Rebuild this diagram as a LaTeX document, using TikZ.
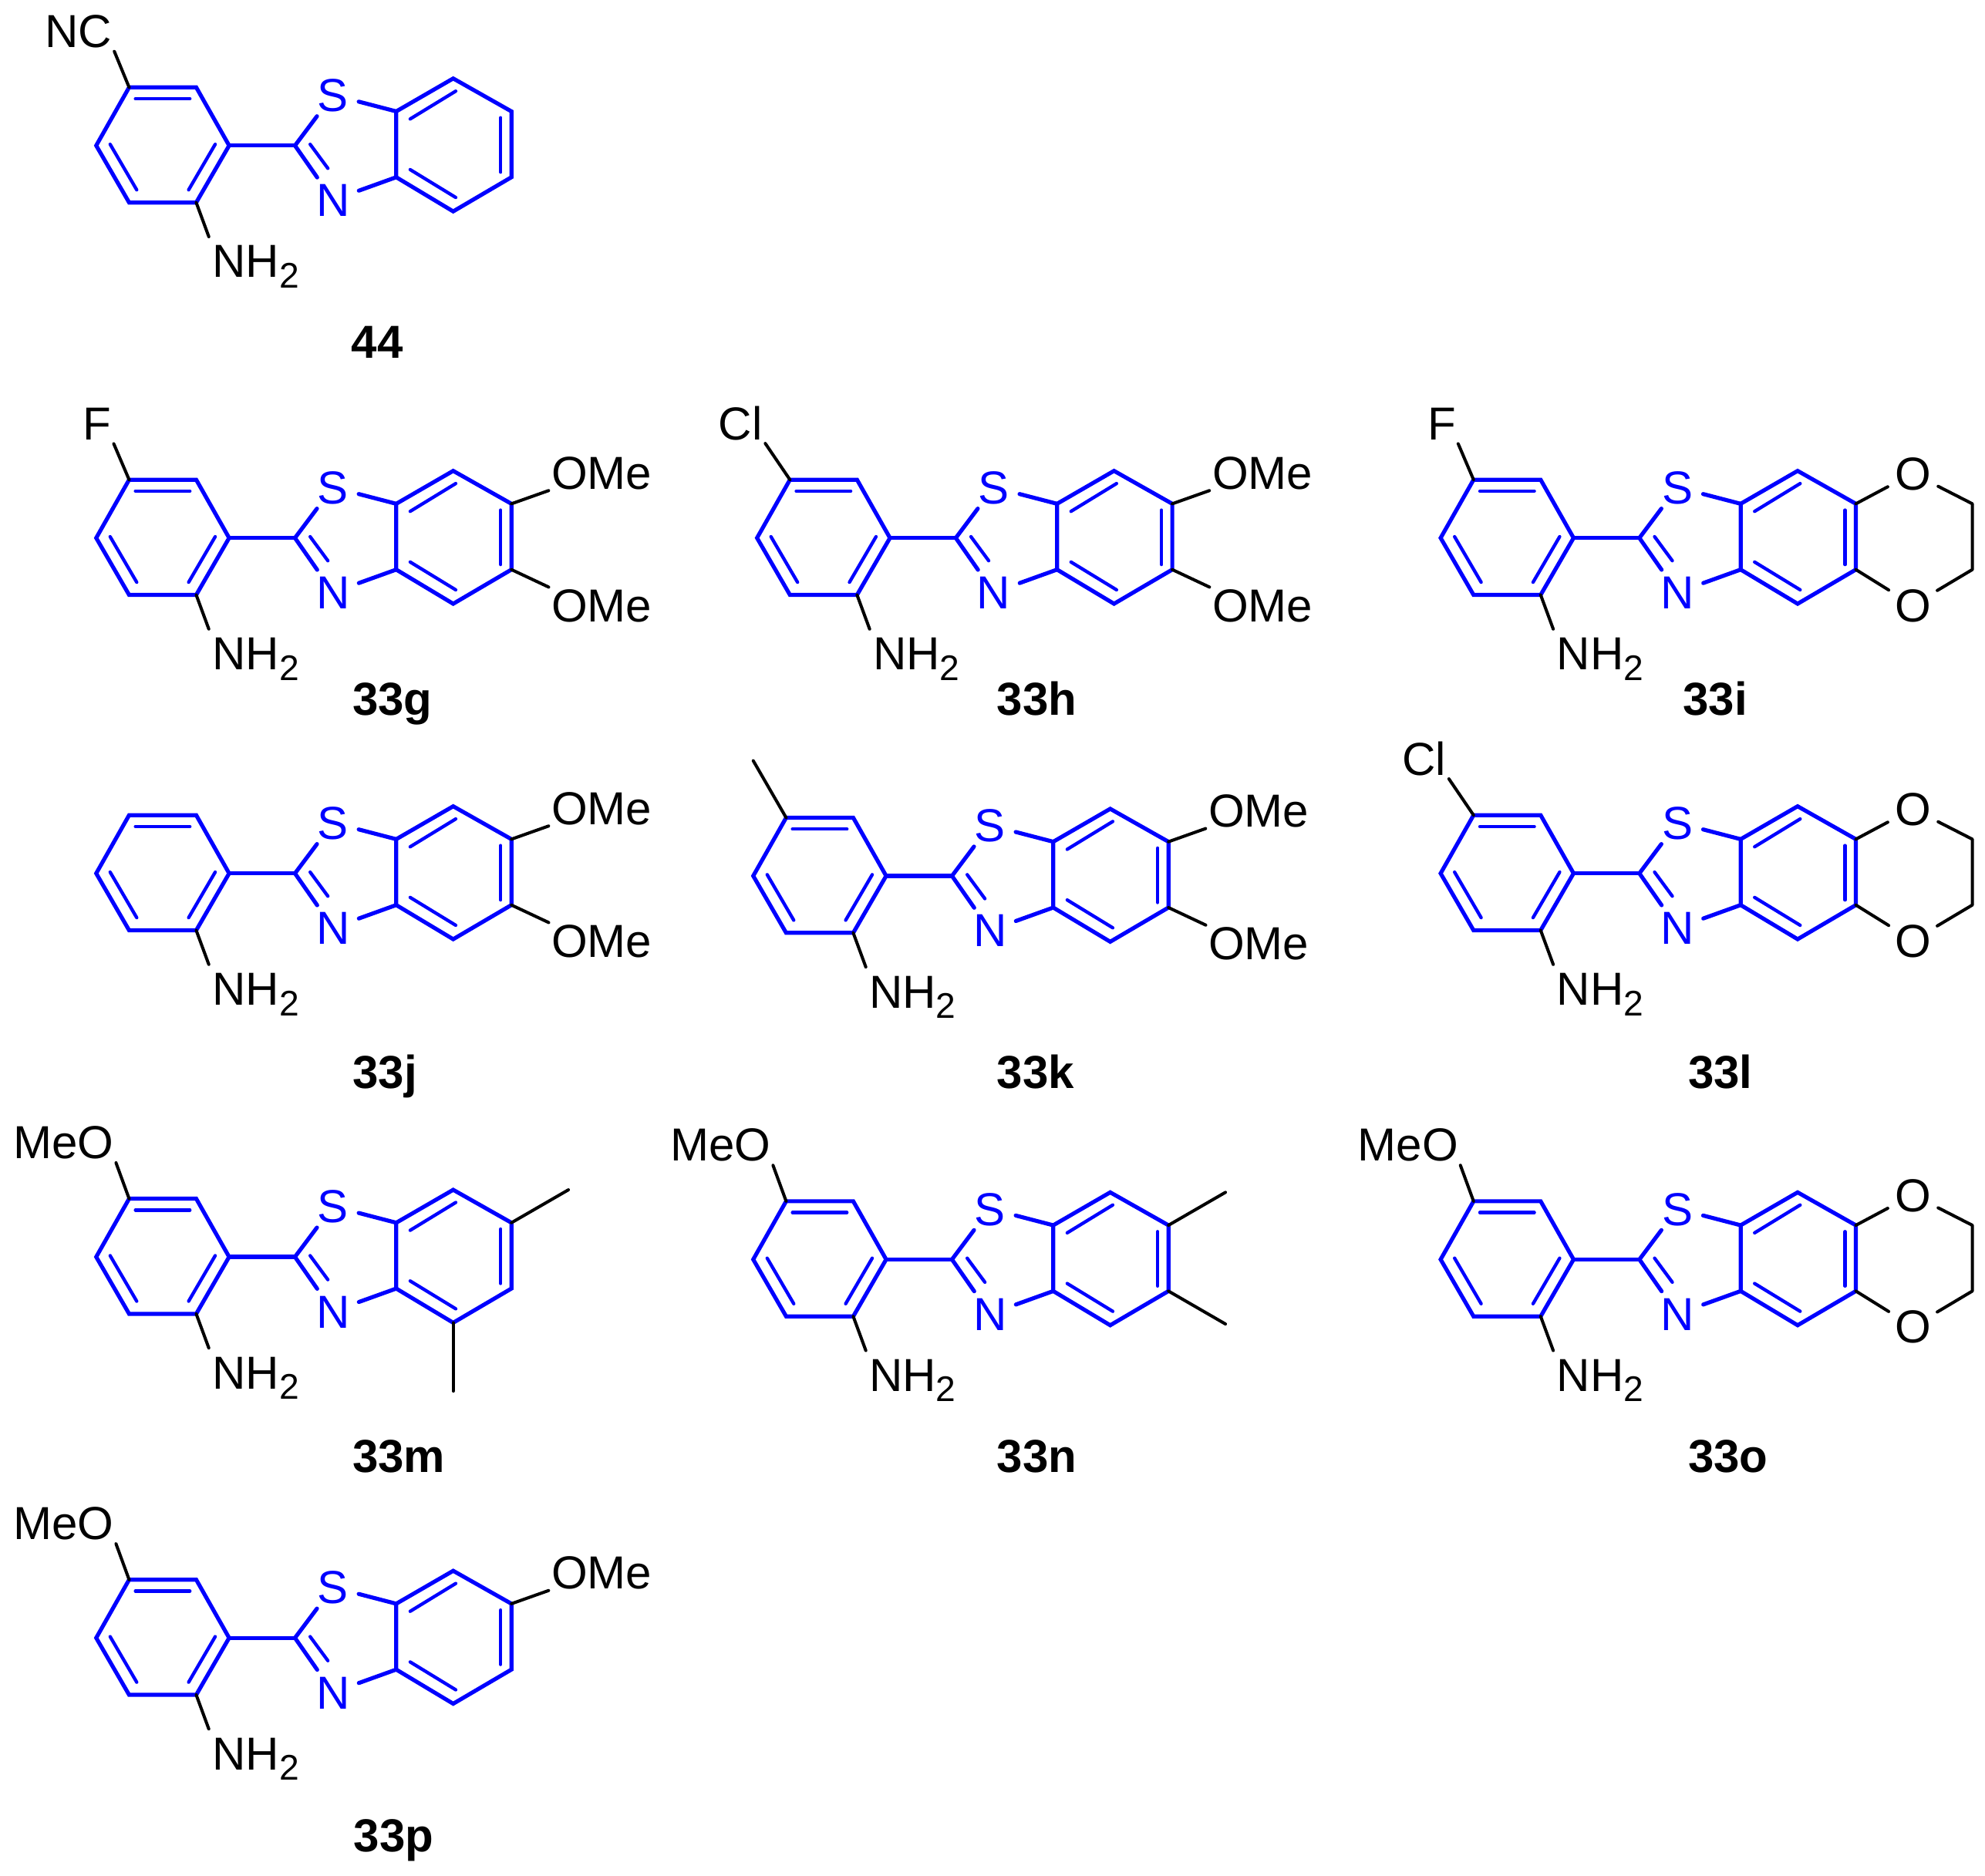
\documentclass[tikz,border=0pt]{standalone}
\usepackage{fontspec}
\setmainfont{Liberation Sans}
\definecolor{molblue}{RGB}{0,0,255}
\newcommand{\subtwo}{\raisebox{-2.3pt}{\fontsize{8}{9}\selectfont 2}}
\tikzset{
  ringbond/.style={draw=molblue,line width=0.9pt,line cap=round,line join=miter},
  innerbond/.style={draw=molblue,line width=0.75pt,line cap=round},
  subbond/.style={draw=black,line width=0.7pt,line cap=round,line join=round},
  txt/.style={inner sep=0pt,text height=7.4pt,text depth=0pt,font=\fontsize{10.4}{12}\selectfont},
  blueatom/.style={circle,inner sep=0.5pt,text=molblue,text height=7.4pt,text depth=0pt,font=\fontsize{10.4}{12}\selectfont},
  oxatom/.style={circle,inner sep=0.5pt,text=black,text height=7.4pt,text depth=0pt,font=\fontsize{10.4}{12}\selectfont},
  lab/.style={inner sep=0pt,anchor=base,font=\fontsize{10.4}{12}\selectfont\bfseries},
}
% one molecule: name, dx, dy, top substituent, benzo substituents, label x, label baseline y
\newcommand{\molecule}[7]{%
\begin{scope}[shift={(#2,#3)},name prefix=#1-]
  \coordinate (a1) at (102,69); \coordinate (a2) at (155,69); \coordinate (a3) at (181,115);
  \coordinate (a4) at (155,160); \coordinate (a5) at (102,160); \coordinate (a6) at (76,115);
  \coordinate (t) at (233,115);
  \coordinate (f1) at (313,88); \coordinate (f2) at (313,140);
  \coordinate (b1) at (358,62); \coordinate (b2) at (404,88);
  \coordinate (b3) at (404,140); \coordinate (b4) at (358,167);
  \node[blueatom] (S) at (263,75) {S};
  \node[blueatom] (N) at (263,158) {N};
  \draw[ringbond] (a1)--(a2)--(a3)--(a4)--(a5)--(a6)--cycle;
  \draw[ringbond] (a3)--(t);
  \draw[ringbond] (t)--(S);
  \draw[ringbond] (S)--(f1);
  \draw[ringbond] (t)--(N);
  \draw[ringbond] (N)--(f2);
  \draw[ringbond] (f1)--(b1)--(b2)--(b3)--(b4)--(f2)--cycle;
  \draw[innerbond] (107,78)--(150,78);
  \draw[innerbond] (170,114)--(149,150);
  \draw[innerbond] (87,114)--(108,150);
  \draw[innerbond] (245,114)--(259,133);
  \draw[innerbond] (360,72)--(324,94);
  \draw[innerbond] (395.5,93)--(395.5,136);
  \draw[innerbond] (324,134)--(360,156);
  \node[txt,anchor=south west] (amine) at (167,220) {NH\subtwo};
  \draw[subbond,shorten >=1.7pt] (a4)--(amine.north west);
  #4
  #5
\end{scope}
\node[lab] (#1-label) at (#6,#7) {#1};
}
\newcommand{\topsub}[2]{\node[txt,anchor=south west] (top) at (#1,38) {#2}; \draw[subbond,shorten >=0.8pt] (a1)--(top.south east);}
\newcommand{\topme}{\coordinate (me) at (76,24); \draw[subbond] (a1)--(me);}
\newcommand{\twoome}{%
  \node[txt,anchor=south west] (ome1) at (435,77) {OMe};
  \node[txt,anchor=south west] (ome2) at (435,182) {OMe};
  \draw[subbond,shorten >=0.5pt] (b2)--(ome1.south west);
  \draw[subbond,shorten >=0.5pt] (b3)--(ome2.north west);}
\newcommand{\dioxane}{%
  \node[oxatom] (o1) at (449,64) {O};
  \node[oxatom] (o2) at (449,168) {O};
  \coordinate (c1) at (496,88); \coordinate (c2) at (496,140);
  \draw[subbond] (b2)--(o1);
  \draw[subbond] (b3)--(o2);
  \draw[subbond] (o1)--(c1)--(c2)--(o2);}
\begin{document}
\begin{tikzpicture}[x=0.01cm,y=-0.01cm]
\useasboundingbox (0,0) rectangle (1568,1482.1);
\molecule{44}{0}{0}{\topsub{35}{NC}}{}{298}{283}
\molecule{33g}{0}{310}{\topsub{65}{F}}{\twoome}{310}{565}
\molecule{33h}{522}{310}{\topsub{45}{Cl}}{\twoome}{819}{565}
\molecule{33i}{1062}{310}{\topsub{65}{F}}{\dioxane}{1355}{565}
\molecule{33j}{0}{575}{}{\twoome}{304}{860}
\molecule{33k}{519}{577}{\topme}{\twoome}{818}{860}
\molecule{33l}{1062}{575}{\topsub{45}{Cl}}{\dioxane}{1359}{860}
\molecule{33m}{0}{878}{\topsub{10}{MeO}}{\coordinate (m1) at (449,62); \coordinate (m2) at (358,221); \draw[subbond] (b2)--(m1); \draw[subbond] (b4)--(m2);}{315}{1163}
\molecule{33n}{519}{880}{\topsub{10}{MeO}}{\coordinate (m1) at (449,62); \coordinate (m2) at (449,166); \draw[subbond] (b2)--(m1); \draw[subbond] (b3)--(m2);}{819}{1163}
\molecule{33o}{1062}{880}{\topsub{10}{MeO}}{\dioxane}{1365}{1163}
\molecule{33p}{0}{1179}{\topsub{10}{MeO}}{\node[txt,anchor=south west] (ome1) at (435,77) {OMe}; \draw[subbond,shorten >=0.5pt] (b2)--(ome1.south west);}{311}{1463}
\end{tikzpicture}
\end{document}
